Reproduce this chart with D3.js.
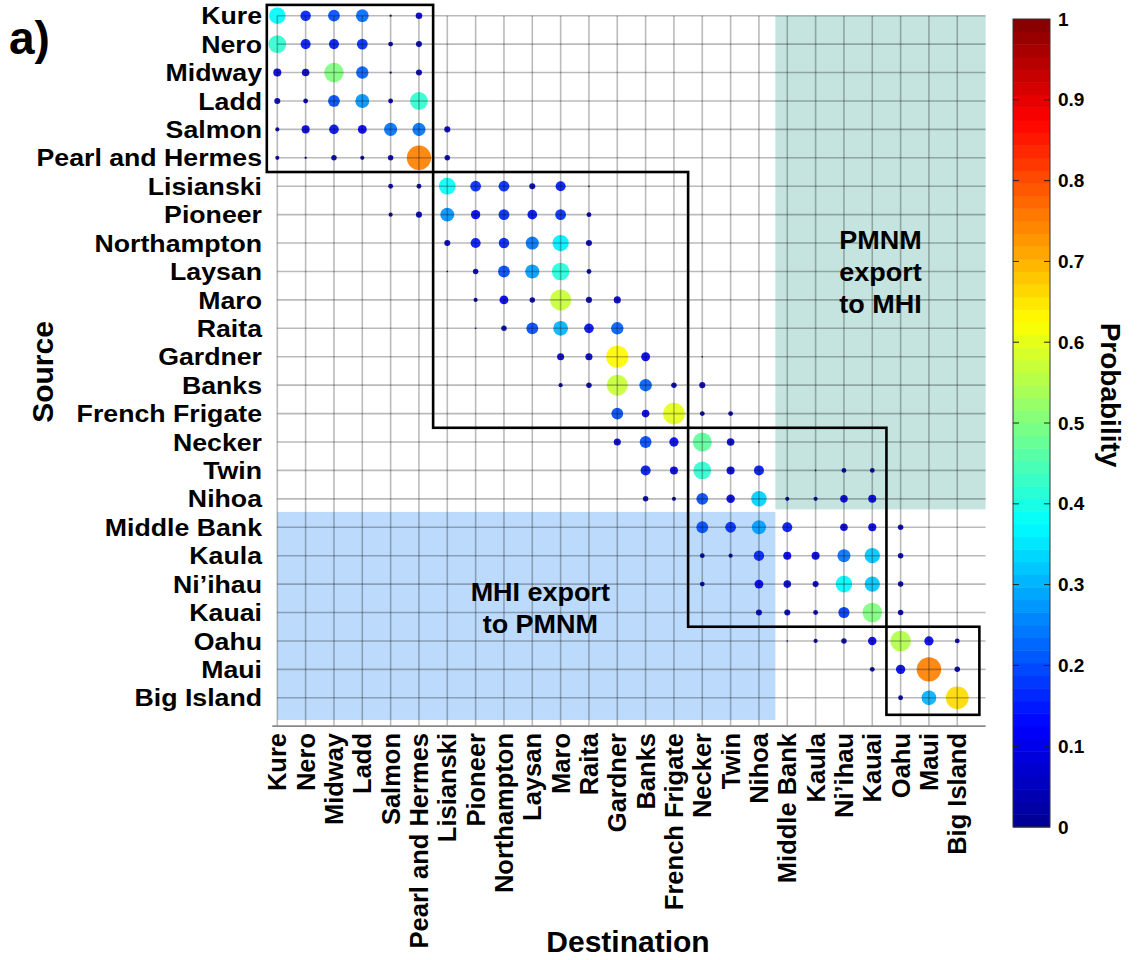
<!DOCTYPE html>
<html>
<head>
<meta charset="utf-8">
<script src="https://cdn.jsdelivr.net/npm/d3@7"></script>
<style>
  body { margin: 0; background: #fff; }
  text { font-family: "Liberation Sans", Arial, Helvetica, sans-serif; font-weight: bold; fill: #000; }
</style>
</head>
<body>
<svg id="chart" width="1141" height="960"></svg>
<script>
// Reef sites, ordered north-west to south-east (used for both sources and destinations)
const sites = ["Kure", "Nero", "Midway", "Ladd", "Salmon", "Pearl and Hermes",
  "Lisianski", "Pioneer", "Northampton", "Laysan", "Maro", "Raita", "Gardner",
  "Banks", "French Frigate", "Necker", "Twin", "Nihoa", "Middle Bank", "Kaula",
  "Ni\u2019ihau", "Kauai", "Oahu", "Maui", "Big Island"];

// Connectivity: [source index, destination index, probability]
const links = [
  [0,0,0.37],[0,1,0.16],[0,2,0.20],[0,3,0.23],[0,4,0.01],[0,5,0.07],
  [1,0,0.42],[1,1,0.15],[1,2,0.15],[1,3,0.17],[1,4,0.04],[1,5,0.06],
  [2,0,0.10],[2,1,0.09],[2,2,0.50],[2,3,0.22],[2,4,0.01],[2,5,0.06],
  [3,0,0.06],[3,1,0.04],[3,2,0.20],[3,3,0.27],[3,4,0.04],[3,5,0.42],
  [4,0,0.03],[4,1,0.10],[4,2,0.14],[4,3,0.12],[4,4,0.24],[4,5,0.24],[4,6,0.06],
  [5,0,0.03],[5,1,0.01],[5,2,0.05],[5,3,0.03],[5,4,0.05],[5,5,0.75],[5,6,0.05],
  [6,4,0.04],[6,5,0.04],[6,6,0.38],[6,7,0.17],[6,8,0.17],[6,9,0.06],[6,10,0.15],[6,11,0.005],
  [7,4,0.03],[7,5,0.06],[7,6,0.27],[7,7,0.13],[7,8,0.17],[7,9,0.14],[7,10,0.17],[7,11,0.04],
  [8,6,0.06],[8,7,0.15],[8,8,0.16],[8,9,0.24],[8,10,0.36],[8,11,0.06],
  [9,6,0.005],[9,7,0.05],[9,8,0.20],[9,9,0.28],[9,10,0.41],[9,11,0.04],
  [10,7,0.03],[10,8,0.12],[10,9,0.05],[10,10,0.57],[10,11,0.06],[10,12,0.08],
  [11,7,0.005],[11,8,0.05],[11,9,0.20],[11,10,0.30],[11,11,0.14],[11,12,0.22],
  [12,10,0.08],[12,11,0.08],[12,12,0.63],[12,13,0.12],[12,15,0.005],
  [13,10,0.03],[13,11,0.05],[13,12,0.57],[13,13,0.22],[13,14,0.05],[13,15,0.06],
  [14,12,0.20],[14,13,0.09],[14,14,0.60],[14,15,0.04],[14,16,0.04],
  [15,12,0.08],[15,13,0.20],[15,14,0.13],[15,15,0.47],[15,16,0.09],[15,17,0.005],
  [16,13,0.15],[16,14,0.10],[16,15,0.42],[16,16,0.10],[16,17,0.15],[16,19,0.005],[16,20,0.04],[16,21,0.04],
  [17,13,0.05],[17,14,0.03],[17,15,0.20],[17,16,0.11],[17,17,0.33],[17,18,0.03],[17,19,0.03],[17,20,0.09],[17,21,0.10],
  [18,15,0.20],[18,16,0.17],[18,17,0.28],[18,18,0.15],[18,20,0.09],[18,21,0.10],[18,22,0.05],
  [19,15,0.04],[19,16,0.03],[19,17,0.16],[19,18,0.10],[19,19,0.10],[19,20,0.24],[19,21,0.32],[19,22,0.05],
  [20,15,0.04],[20,17,0.12],[20,18,0.09],[20,19,0.06],[20,20,0.37],[20,21,0.32],[20,22,0.05],
  [21,17,0.06],[21,18,0.06],[21,19,0.04],[21,20,0.18],[21,21,0.50],[21,22,0.05],
  [22,18,0.005],[22,19,0.03],[22,20,0.05],[22,21,0.11],[22,22,0.55],[22,23,0.13],[22,24,0.04],
  [23,21,0.04],[23,22,0.13],[23,23,0.75],[23,24,0.05],
  [24,22,0.04],[24,23,0.30],[24,24,0.66]
];

// Connectivity clusters as [first site, last site]
const clusters = [[0, 5], [6, 14], [15, 21], [22, 24]];

// Export zones: destination range, source range, caption lines
const zoneLabels = [["PMNM", "export", "to MHI"], ["MHI export", "to PMNM"]];
const zoneDest = [[18, 24], [0, 17]];
const zoneSrc = [[0, 17], [18, 24]];
const zoneFill = ["#c5e3df", "#bcdafb"];

const probTicks = [0, 0.1, 0.2, 0.3, 0.4, 0.5, 0.6, 0.7, 0.8, 0.9, 1];

const n = sites.length;
const svg = d3.select("#chart");
svg.append("rect").attr("width", 1141).attr("height", 960).attr("fill", "#fff");

// Plot extents: one column / row per site, final cell left open
const x = d3.scaleLinear().domain([0, n]).range([277.3, 985.6]);
const y = d3.scaleLinear().domain([0, n]).range([15.7, 726.2]);

// Jet colour map
const jet = d3.scaleLinear()
  .domain([0, 0.125, 0.375, 0.625, 0.875, 1])
  .range(["#00008f", "#0000ff", "#00ffff", "#ffff00", "#ff0000", "#800000"])
  .clamp(true);
const radius = d3.scalePow().exponent(0.55).domain([0, 1]).range([0, 14.3]);

// Zone extents in site units
function zoneBounds(k) {
  const d = zoneDest[k], s = zoneSrc[k];
  return {
    x0: d[0] === 0 ? 0 : d[0] - 0.42,
    x1: d[1] === n - 1 ? n : d[1] + 0.58,
    y0: s[0] === 0 ? 0 : s[0] - 0.54,
    y1: s[1] === n - 1 ? s[1] + 0.78 : s[1] + 0.37
  };
}

// Shaded export zones
const zones = svg.append("g");
zoneLabels.forEach((lines, k) => {
  const b = zoneBounds(k);
  zones.append("rect")
    .attr("x", x(b.x0)).attr("y", y(b.y0))
    .attr("width", x(b.x1) - x(b.x0)).attr("height", y(b.y1) - y(b.y0))
    .attr("fill", zoneFill[k]);
});

// Bubbles
svg.append("g").selectAll("circle")
  .data(links.slice().sort((a, b) => b[2] - a[2]))
  .join("circle")
  .attr("cx", d => x(d[1]))
  .attr("cy", d => y(d[0]))
  .attr("r", d => Math.max(0.8, radius(d[2])))
  .attr("fill", d => jet(d[2]))
  .attr("fill-opacity", 0.92);

// Grid drawn over the bubbles
const grid = svg.append("g").attr("stroke", "#000").attr("stroke-opacity", 0.27).attr("stroke-width", 1.6);
d3.range(n).forEach(i => {
  grid.append("line").attr("x1", x(i)).attr("x2", x(i)).attr("y1", y(0)).attr("y2", y(n));
  grid.append("line").attr("x1", x(0)).attr("x2", x(n)).attr("y1", y(i)).attr("y2", y(i));
});
svg.append("line").attr("x1", x(0) - 5).attr("x2", x(n)).attr("y1", y(n)).attr("y2", y(n))
  .attr("stroke", "#888").attr("stroke-width", 1.8);

// Cluster boxes
const boxes = svg.append("g").attr("fill", "none").attr("stroke", "#000").attr("stroke-width", 2.6);
clusters.forEach(([a, b]) => {
  const bx0 = a === 0 ? -0.37 : a - 0.5, bx1 = b === n - 1 ? b + 0.78 : b + 0.5;
  const by0 = a === 0 ? -0.38 : a - 0.5, by1 = b === n - 1 ? b + 0.6 : b + 0.5;
  boxes.append("rect").attr("x", x(bx0)).attr("y", y(by0))
    .attr("width", x(bx1) - x(bx0)).attr("height", y(by1) - y(by0));
});

// Zone captions, nudged off the zone centre
const captionShift = [[0, 10], [14, -8]];
zoneLabels.forEach((lines, k) => {
  const b = zoneBounds(k);
  const cx = x((b.x0 + b.x1) / 2) + captionShift[k][0];
  const cy = y((b.y0 + b.y1) / 2) + captionShift[k][1];
  const lh = 32;
  lines.forEach((t, j) => {
    svg.append("text")
      .attr("transform", `translate(${cx},${cy + (j - (lines.length - 1) / 2) * lh}) scale(1.08,1)`)
      .attr("text-anchor", "middle").attr("dominant-baseline", "central")
      .attr("font-size", 25).text(t);
  });
});

// Source (row) labels
svg.append("g").selectAll("text").data(sites).join("text")
  .attr("transform", (d, i) => `translate(262,${y(i)}) scale(1.09,1)`)
  .attr("text-anchor", "end").attr("dominant-baseline", "central")
  .attr("font-size", 24.5).text(d => d);

// Destination (column) labels
svg.append("g").selectAll("text").data(sites).join("text")
  .attr("transform", (d, i) => `translate(${x(i)},733) rotate(-90)`)
  .attr("text-anchor", "end").attr("dominant-baseline", "central")
  .attr("font-size", 25.5).text(d => d);

// Axis titles and panel tag
svg.append("text").attr("transform", "translate(42,372) rotate(-90)")
  .attr("text-anchor", "middle").attr("dominant-baseline", "central")
  .attr("font-size", 30).text("Source");
svg.append("text").attr("x", 628).attr("y", 952).attr("text-anchor", "middle")
  .attr("font-size", 30).text("Destination");
svg.append("text").attr("x", 9).attr("y", 54).attr("font-size", 46).text("a)");

// Colour bar
const cb = { x: 1013, w: 37 };
const cy = d3.scaleLinear().domain([0, 1]).range([827, 19]);
const bands = d3.range(64);
svg.append("g").selectAll("rect").data(bands).join("rect")
  .attr("x", cb.x).attr("width", cb.w)
  .attr("y", k => cy((k + 1) / 64)).attr("height", k => cy(k / 64) - cy((k + 1) / 64) + 0.5)
  .attr("fill", k => jet((k + 0.5) / 64));
svg.append("rect").attr("x", cb.x).attr("y", cy(1)).attr("width", cb.w).attr("height", cy(0) - cy(1))
  .attr("fill", "none").attr("stroke", "#333").attr("stroke-width", 1);
const cbt = svg.append("g").attr("stroke", "#222").attr("stroke-width", 1);
probTicks.slice(1, -1).forEach(t => {
  cbt.append("line").attr("x1", cb.x).attr("x2", cb.x + 6).attr("y1", cy(t)).attr("y2", cy(t));
  cbt.append("line").attr("x1", cb.x + cb.w - 6).attr("x2", cb.x + cb.w).attr("y1", cy(t)).attr("y2", cy(t));
});
svg.append("g").selectAll("text").data(probTicks).join("text")
  .attr("x", 1058).attr("y", d => cy(d)).attr("dominant-baseline", "central")
  .attr("font-size", 19).text(d => d3.format("~g")(d));
svg.append("text").attr("transform", "translate(1110,395) rotate(90)")
  .attr("text-anchor", "middle").attr("dominant-baseline", "central")
  .attr("font-size", 28).text("Probability");
</script>
</body>
</html>
